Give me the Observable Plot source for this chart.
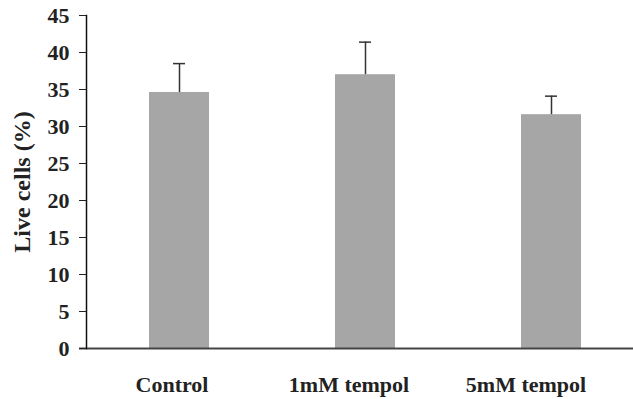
<!DOCTYPE html>
<html><head><meta charset="utf-8">
<script src="https://cdn.jsdelivr.net/npm/d3@7"></script>
<script src="https://cdn.jsdelivr.net/npm/@observablehq/plot@0.6"></script>
<style>
body{margin:0;background:#fff}
#wrap{position:relative;width:633px;height:399px;overflow:hidden}
#wrap svg{position:absolute;left:0;top:0}
</style>
</head><body><div id="wrap"></div>
<script>
const categories = ["Control", "1mM tempol", "5mM tempol"];
const means = [34.6, 37.0, 31.6];
const errors = [3.9, 4.4, 2.5];
const yTicks = [0, 5, 10, 15, 20, 25, 30, 35, 40, 45];
const yLabel = "Live cells (%)";

const data = categories.map((c, i) => ({cat: c, mean: means[i], upper: means[i] + errors[i]}));
const font = "'Liberation Serif', 'Times New Roman', serif";

const main = Plot.plot({
  width: 633, height: 399,
  marginLeft: 86, marginRight: 0, marginTop: 15, marginBottom: 51,
  style: {fontFamily: font, fontWeight: "bold", fontSize: "22px", color: "#222", background: "none"},
  x: {type: "band", domain: categories, range: [86, 644], paddingInner: 0.68, paddingOuter: 0.34, axis: null},
  y: {domain: [0, 45], axis: null},
  marks: [
    Plot.barY(data, {x: "cat", y: "mean", fill: "#a6a6a6"}),
    Plot.ruleX(data, {x: "cat", y1: "mean", y2: "upper", stroke: "#333", strokeWidth: 1.5}),
    Plot.tickY(data, {x: "cat", y: "upper", stroke: "#333", strokeWidth: 1.5, insetLeft: 24, insetRight: 24}),
    Plot.ruleY([0], {stroke: "#444", strokeWidth: 2, insetLeft: -7}),
    Plot.frame({anchor: "left", stroke: "#111", strokeWidth: 1.5}),
    Plot.axisY({ticks: yTicks, tickSize: 7, tickPadding: 10, fontSize: 22, fontWeight: "bold", label: null}),
    Plot.axisY({ticks: [], tickSize: 0, fontSize: 24, fontWeight: "bold",
      label: yLabel, labelAnchor: "center", labelArrow: "none", labelOffset: 74})
  ]
});

const labels = Plot.plot({
  width: 633, height: 399,
  marginLeft: 82.5, marginRight: 19.5, marginTop: 15, marginBottom: 51,
  style: {fontFamily: font, fontWeight: "bold", fontSize: "22px", color: "#222", background: "none"},
  x: {type: "band", domain: categories, paddingInner: 0, paddingOuter: 0},
  y: {domain: [0, 45], axis: null},
  marks: [
    Plot.axisX({tickSize: 0, tickPadding: 28, fontSize: 22, fontWeight: "bold", label: null})
  ]
});

const wrap = document.getElementById("wrap");
wrap.appendChild(main);
wrap.appendChild(labels);
</script>
</body></html>
